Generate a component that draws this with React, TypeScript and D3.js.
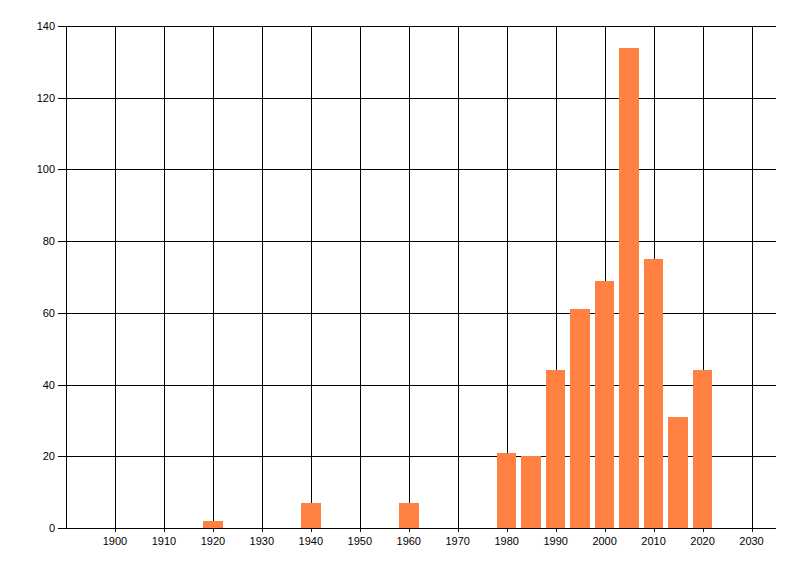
import React from "react";
import * as d3 from "d3";

const years = [1920, 1940, 1960, 1980, 1985, 1990, 1995, 2000, 2005, 2010, 2015, 2020];
const counts = [2, 7, 7, 21, 20, 44, 61, 69, 134, 75, 31, 44];
const xTicks = [1900, 1910, 1920, 1930, 1940, 1950, 1960, 1970, 1980, 1990, 2000, 2010, 2020, 2030];
const yTicks = [0, 20, 40, 60, 80, 100, 120, 140];

const W = 800;
const H = 576;
const left = 66;
const right = 776;
const top = 26;
const bottom = 528;

export default function App() {
  const x = d3.scaleLinear().domain([1890, 2035]).range([left, right]);
  const y = d3.scaleLinear().domain([0, 140]).range([bottom, top]);
  const font = "'Liberation Sans', Arial, sans-serif";
  const crisp = (v: number) => Math.round(v) + 0.5;
  return (
    <svg
      width={W}
      height={H}
      style={{ position: "absolute", left: 0, top: 0, background: "#fff" }}
    >
      <rect x={0} y={0} width={W} height={H} fill="#fff" />
      {/* horizontal grid + y ticks */}
      {yTicks.map((t) => (
        <g key={"y" + t}>
          <line x1={58} x2={right} y1={crisp(y(t))} y2={crisp(y(t))} stroke="#000" strokeWidth={1} />
          <text
            x={55}
            y={y(t) + 4}
            textAnchor="end"
            fontFamily={font}
            fontSize={11}
            fill="#000"
          >
            {t}
          </text>
        </g>
      ))}
      {/* vertical grid + x ticks */}
      {xTicks.map((t) => (
        <g key={"x" + t}>
          <line x1={crisp(x(t))} x2={crisp(x(t))} y1={top} y2={bottom + 4} stroke="#000" strokeWidth={1} />
          <text
            x={x(t)}
            y={545}
            textAnchor="middle"
            fontFamily={font}
            fontSize={11}
            fill="#000"
          >
            {t}
          </text>
        </g>
      ))}
      {/* left axis */}
      <line x1={crisp(left)} x2={crisp(left)} y1={top} y2={bottom + 1} stroke="#000" strokeWidth={1} />
      {/* bars */}
      {years.map((yr, i) => (
        <rect
          key={"b" + yr}
          x={Math.round(x(yr - 2))}
          width={Math.round(x(yr + 2)) - Math.round(x(yr - 2))}
          y={Math.round(y(counts[i]))}
          height={Math.round(y(0)) - Math.round(y(counts[i]))}
          fill="#FF8040"
        />
      ))}
      {/* bottom axis on top */}
      <line x1={58} x2={right} y1={crisp(y(0))} y2={crisp(y(0))} stroke="#000" strokeWidth={1} />
    </svg>
  );
}
